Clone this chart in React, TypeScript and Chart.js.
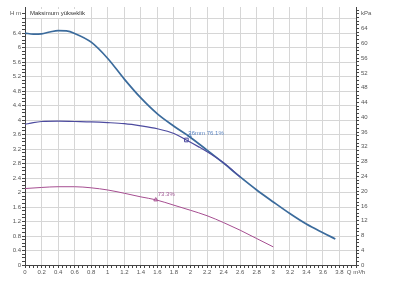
import React, { useEffect, useRef } from 'react';
import { Chart, registerables } from 'chart.js';

Chart.register(...registerables);

// ---- data ----
const Q_MAX = [0, 0.1, 0.2, 0.3, 0.4, 0.5, 0.6, 0.8, 1.0, 1.2, 1.4, 1.6, 1.8, 2.0, 2.2, 2.4, 2.6, 2.8, 3.0, 3.2, 3.4, 3.6, 3.75];
const H_MAX = [6.4, 6.37, 6.38, 6.43, 6.47, 6.46, 6.39, 6.15, 5.7, 5.13, 4.61, 4.17, 3.83, 3.52, 3.17, 2.81, 2.43, 2.07, 1.74, 1.42, 1.13, 0.89, 0.72];

const Q_MID = [0, 0.1, 0.2, 0.4, 0.6, 0.8, 1.0, 1.2, 1.4, 1.6, 1.8, 1.95, 2.1, 2.24, 2.4, 2.6];
const H_MID = [3.88, 3.93, 3.96, 3.97, 3.96, 3.95, 3.93, 3.9, 3.84, 3.76, 3.63, 3.45, 3.26, 3.07, 2.82, 2.43];

const Q_LOW = [0, 0.2, 0.4, 0.6, 0.8, 1.0, 1.2, 1.4, 1.58, 1.8, 2.0, 2.2, 2.4, 2.6, 2.8, 3.0];
const H_LOW = [2.11, 2.14, 2.16, 2.16, 2.13, 2.07, 1.98, 1.88, 1.8, 1.65, 1.51, 1.36, 1.17, 0.96, 0.73, 0.5];

const MARK_Q = [1.95, 1.58];
const MARK_H = [3.45, 1.8];
const MARK_TEXT = ['36mm 76.1%', '73.3%'];
const DUTY_Q = [1.99];
const DUTY_H = [3.57];

const CURVE_NAME = 'Maksimum yükseklik';
const X_UNIT = 'Q m³/h';
const H_UNIT = 'H m';
const P_UNIT = 'kPa';

const X_MAX = 4;
const X_MINOR = 0.05;
const X_MAJOR = 0.2;
const H_MAX_AXIS = 7.12;
const H_MINOR = 0.1;
const H_MAJOR = 0.4;
const H_LABEL_TOP = 6.4;
const P_MAX_AXIS = 69.85;
const P_MINOR = 1;
const P_MAJOR = 4;
const P_UNIT_AT = 68;

const C_MAX = '#3b6b9c';
const C_MID = '#4d4b9f';
const C_LOW = '#a64e91';
const C_GRID = '#d6d6d6';
const C_AXIS = '#444';
const C_TEXT = '#555';
const FONT = 'Liberation Sans, Arial, sans-serif';

const near = (a: number, b: number) => Math.abs(a - b) < 1e-6;
const isMult = (v: number, s: number) => Math.abs(v / s - Math.round(v / s)) < 1e-6;
const fmt = (v: number) => String(Math.round(v * 100) / 100);
const range = (max: number, step: number) => {
  const out: number[] = [];
  const n = Math.floor(max / step + 1e-9);
  for (let i = 0; i <= n; i++) out.push(Math.round(i * step * 1000) / 1000);
  return out;
};
const pts = (xs: number[], ys: number[]) => xs.map((x, i) => ({ x, y: ys[i] }));

const H_UNIT_AT = P_UNIT_AT / 9.81;

export default function App() {
  const ref = useRef<HTMLCanvasElement | null>(null);

  useEffect(() => {
    if (!ref.current) return;
    const textPlugin = {
      id: 'texts',
      beforeDatasetsDraw(chart: any) {
        const { ctx, chartArea } = chart;
        ctx.save();
        ctx.font = `6px ${FONT}`;
        const w = ctx.measureText(CURVE_NAME).width;
        ctx.fillStyle = '#fff';
        ctx.fillRect(chartArea.left + 3, chartArea.top + 2, w + 4, 9);
        ctx.fillStyle = '#333';
        ctx.textBaseline = 'middle';
        ctx.fillText(CURVE_NAME, chartArea.left + 5, chartArea.top + 6.5);
        ctx.restore();
      },
      afterDatasetsDraw(chart: any) {
        const { ctx } = chart;
        const xs = chart.scales.x;
        const ys = chart.scales.y;
        ctx.save();
        ctx.font = `6px ${FONT}`;
        ctx.textBaseline = 'middle';
        MARK_TEXT.forEach((t, i) => {
          const px = xs.getPixelForValue(MARK_Q[i]);
          const py = ys.getPixelForValue(MARK_H[i]);
          ctx.fillStyle = i === 0 ? '#5d86c2' : '#a45c98';
          ctx.fillText(t, px + 2, py - (i === 0 ? 7 : 5));
        });
        ctx.restore();
      },
    };

    const curve = (xs: number[], ys: number[], color: string, width: number) => ({
      data: pts(xs, ys),
      showLine: true,
      borderColor: color,
      borderWidth: width,
      pointRadius: 0,
      cubicInterpolationMode: 'monotone',
      yAxisID: 'y',
    });

    const chart = new Chart(ref.current, {
      type: 'scatter',
      data: {
        datasets: [
          curve(Q_LOW, H_LOW, C_LOW, 1),
          curve(Q_MID, H_MID, C_MID, 1.2),
          curve(Q_MAX, H_MAX, C_MAX, 1.7),
          {
            data: pts(MARK_Q, MARK_H),
            showLine: false,
            pointStyle: ['rect', 'triangle'],
            pointRadius: [2.6, 2.2],
            pointBorderColor: [C_MID, C_LOW],
            pointBackgroundColor: 'rgba(255,255,255,0)',
            pointBorderWidth: 1,
            yAxisID: 'y',
          },
          {
            data: pts(DUTY_Q, DUTY_H),
            showLine: false,
            pointStyle: 'triangle',
            pointRadius: 2,
            pointBorderColor: '#6a8fc6',
            pointBackgroundColor: 'rgba(255,255,255,0)',
            pointBorderWidth: 1,
            yAxisID: 'y',
          },
        ],
      } as any,
      options: {
        animation: false,
        responsive: true,
        maintainAspectRatio: false,
        layout: { padding: { top: 7, left: 0, right: 0, bottom: 0 } },
        plugins: { legend: { display: false }, tooltip: { enabled: false } },
        scales: {
          x: {
            type: 'linear',
            min: 0,
            max: X_MAX,
            afterBuildTicks: (s: any) => {
              s.ticks = range(X_MAX, X_MINOR).map((v) => ({ value: v }));
            },
            afterFit: (s: any) => {
              s.height = 17;
            },
            border: { color: C_AXIS, width: 1 },
            grid: {
              color: (c: any) => (c.tick && isMult(c.tick.value, X_MAJOR) ? C_GRID : 'rgba(0,0,0,0)'),
              tickColor: C_AXIS,
              tickLength: 3,
              lineWidth: 1,
            },
            ticks: {
              autoSkip: false,
              maxRotation: 0,
              minRotation: 0,
              padding: 1,
              color: C_TEXT,
              font: { family: FONT, size: 6 },
              callback: (v: any) => {
                const n = Number(v);
                if (near(n, X_MAX)) return X_UNIT;
                return isMult(n, X_MAJOR) ? fmt(n) : '';
              },
            },
          },
          y: {
            type: 'linear',
            position: 'left',
            min: 0,
            max: H_MAX_AXIS,
            afterBuildTicks: (s: any) => {
              const t = range(6.8, H_MINOR).map((v) => ({ value: v }));
              t.push({ value: H_UNIT_AT });
              s.ticks = t;
            },
            afterFit: (s: any) => {
              s.width = 25;
            },
            border: { color: C_AXIS, width: 1 },
            grid: {
              color: (c: any) =>
                c.tick && isMult(c.tick.value, H_MAJOR) && c.tick.value < 7 ? C_GRID : 'rgba(0,0,0,0)',
              tickColor: C_AXIS,
              tickLength: 3,
              lineWidth: 1,
            },
            ticks: {
              autoSkip: false,
              padding: 1,
              color: C_TEXT,
              font: { family: FONT, size: 6 },
              callback: (v: any) => {
                const n = Number(v);
                if (near(n, H_UNIT_AT)) return H_UNIT;
                return isMult(n, H_MAJOR) && n <= H_LABEL_TOP + 1e-6 ? fmt(n) : '';
              },
            },
          },
          p: {
            type: 'linear',
            position: 'right',
            min: 0,
            max: P_MAX_AXIS,
            afterBuildTicks: (s: any) => {
              s.ticks = range(69, P_MINOR).map((v) => ({ value: v }));
            },
            afterFit: (s: any) => {
              s.width = 44;
            },
            border: { color: C_AXIS, width: 1 },
            grid: {
              drawOnChartArea: false,
              tickColor: C_AXIS,
              tickLength: 3,
            },
            ticks: {
              autoSkip: false,
              padding: 2,
              color: C_TEXT,
              font: { family: FONT, size: 6 },
              callback: (v: any) => {
                const n = Number(v);
                if (near(n, P_UNIT_AT)) return P_UNIT;
                return isMult(n, P_MAJOR) ? fmt(n) : '';
              },
            },
          },
        },
      } as any,
      plugins: [textPlugin],
    });
    return () => chart.destroy();
  }, []);

  return (
    <div style={{ position: 'fixed', left: 0, top: 0, width: 400, height: 282, background: '#fff' }}>
      <canvas ref={ref} />
    </div>
  );
}
